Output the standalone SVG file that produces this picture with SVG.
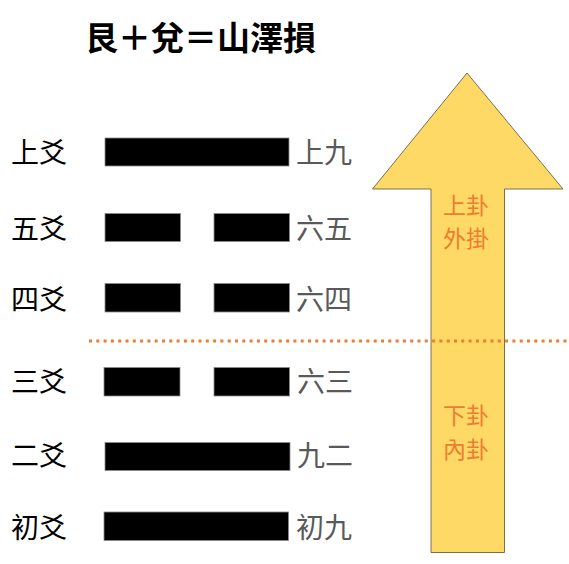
<svg xmlns="http://www.w3.org/2000/svg" width="569" height="564" viewBox="0 0 569 564">
<style>
.t{font-family:"Noto Sans CJK TC","Noto Sans CJK JP",sans-serif;}
.title{font-size:33px;font-weight:bold;fill:#000;}
.lab{font-size:28px;fill:#000;}
.name{font-size:28px;fill:#595959;}
.gua{font-size:23px;fill:#ED7D31;text-anchor:middle;}
.bar{fill:#000;stroke:#8c8c8c;stroke-width:0.8;}
</style>
<rect width="569" height="564" fill="#fff"/>
<text class="t title" x="85" y="50">艮＋兌＝山澤損</text>
<g id="arrow">
<polygon points="467,73 563,189 504.5,189 504.5,552.5 431,552.5 431,189 372.5,189" fill="#FFD966" stroke="#5a5030" stroke-width="0.8"/>
<text class="t gua" x="466" y="214">上卦</text>
<text class="t gua" x="466" y="247">外掛</text>
<text class="t gua" x="466" y="424">下卦</text>
<text class="t gua" x="466" y="458">內卦</text>
</g>
<g id="divider">
<line x1="89" y1="341" x2="569" y2="341" stroke="#ED7D31" stroke-width="3" stroke-dasharray="3 4.3"/>
</g>
<g id="line6">
<text class="t lab" x="11" y="163">上爻</text>
<rect class="bar" x="105" y="138" width="184" height="28"/>
<text class="t name" x="296" y="163">上九</text>
</g>
<g id="line5">
<text class="t lab" x="11" y="239">五爻</text>
<rect class="bar" x="105" y="213.5" width="75.5" height="28"/>
<rect class="bar" x="214" y="213.5" width="75.5" height="28"/>
<text class="t name" x="296" y="239">六五</text>
</g>
<g id="line4">
<text class="t lab" x="11" y="310">四爻</text>
<rect class="bar" x="105" y="283.5" width="75.5" height="28.5"/>
<rect class="bar" x="214" y="283.5" width="75.5" height="28.5"/>
<text class="t name" x="296" y="310">六四</text>
</g>
<g id="line3">
<text class="t lab" x="11" y="392">三爻</text>
<rect class="bar" x="104" y="367.5" width="76" height="28.5"/>
<rect class="bar" x="214" y="367.5" width="75.5" height="28.5"/>
<text class="t name" x="297" y="392">六三</text>
</g>
<g id="line2">
<text class="t lab" x="11" y="466">二爻</text>
<rect class="bar" x="105" y="442.5" width="185" height="28"/>
<text class="t name" x="297" y="466">九二</text>
</g>
<g id="line1">
<text class="t lab" x="11" y="538">初爻</text>
<rect class="bar" x="104" y="512" width="184.5" height="28.5"/>
<text class="t name" x="296" y="538">初九</text>
</g>
</svg>
